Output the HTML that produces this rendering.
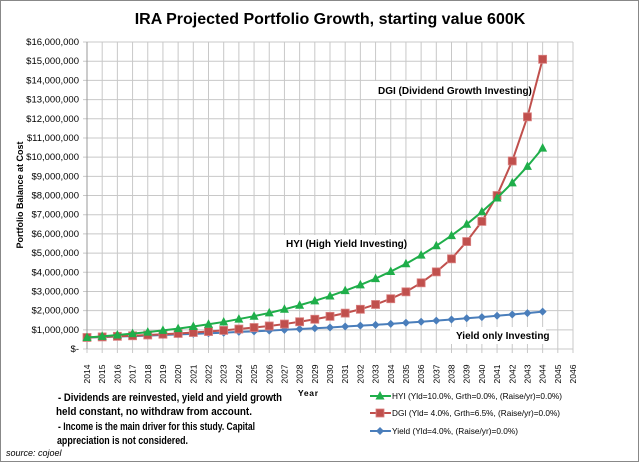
<!DOCTYPE html>
<html><head><meta charset="utf-8"><style>
body{margin:0;background:#fff}
svg text{font-family:"Liberation Sans",sans-serif}
</style></head><body>
<svg id="c" width="640" height="465" xmlns="http://www.w3.org/2000/svg">
<rect x="0.5" y="0.5" width="638" height="461" fill="#fff" stroke="#888"/>
<text x="330" y="24" text-anchor="middle" font-size="16" font-weight="bold">IRA Projected Portfolio Growth, starting value 600K</text>
<text transform="translate(23,195) rotate(-90)" text-anchor="middle" font-size="9" font-weight="bold">Portfolio Balance at Cost</text>
<text x="298" y="396" font-size="8.5" font-weight="bold" textLength="20">Year</text>
<g id="grid"></g><g id="series"></g>
<rect x="372" y="81" width="150" height="18" fill="#fff"/>
<text x="378" y="94" font-size="10" font-weight="bold">DGI (Dividend Growth Investing)</text>
<rect x="280" y="235" width="124" height="17" fill="#fff"/>
<text x="286" y="247" font-size="10" font-weight="bold">HYI (High Yield Investing)</text>
<rect x="450" y="327" width="96" height="17" fill="#fff"/>
<text x="456" y="339" font-size="10" font-weight="bold">Yield only Investing</text>
<g font-size="11" font-weight="bold">
<text x="58" y="401" textLength="224" lengthAdjust="spacingAndGlyphs">- Dividends are reinvested, yield and yield growth</text>
<text x="56" y="415" textLength="196" lengthAdjust="spacingAndGlyphs">held constant, no withdraw from account.</text>
<text x="58" y="430" textLength="197" lengthAdjust="spacingAndGlyphs">- Income is the main driver for this study. Capital</text>
<text x="57" y="444" textLength="131" lengthAdjust="spacingAndGlyphs">appreciation is not considered.</text>
</g>
<text x="6" y="456" font-size="9" font-style="italic">source: cojoel</text>
<g id="legend" font-size="8.5"></g>
</svg>
<script>
const years=[];for(let y=2014;y<=2046;y++)years.push(y);
const yTicks=[0,1,2,3,4,5,6,7,8,9,10,11,12,13,14,15,16];
const hyi=[.6,.66,.73,.8,.88,.97,1.06,1.17,1.29,1.41,1.56,1.71,1.88,2.07,2.28,2.51,2.76,3.04,3.34,3.67,4.04,4.44,4.89,5.38,5.91,6.5,7.15,7.87,8.66,9.52,10.47];
const dgi=[.6,.63,.66,.69,.73,.77,.81,.86,.91,.97,1.04,1.12,1.2,1.3,1.42,1.55,1.7,1.87,2.07,2.32,2.62,2.98,3.45,4.02,4.7,5.6,6.65,8.0,9.8,12.1,15.1];
const yld=[.6,.62,.65,.67,.7,.73,.76,.79,.82,.85,.89,.92,.96,1.0,1.04,1.08,1.12,1.17,1.22,1.26,1.31,1.37,1.42,1.48,1.54,1.6,1.66,1.73,1.8,1.87,1.95];
const NS="http://www.w3.org/2000/svg";
const X0=87,X1=573,Y0=349,Y1=42;
const xs=i=>X0+i*(X1-X0)/32, ys=v=>Y0-v*(Y0-Y1)/16;
function mk(t,a,p){const e=document.createElementNS(NS,t);for(const k in a)e.setAttribute(k,a[k]);p.appendChild(e);return e;}
const g=document.getElementById('grid');
yTicks.forEach(v=>{
 const l=mk('line',{x1:X0-4,x2:X1,y1:ys(v),y2:ys(v),stroke:'#c8c8c8'},g);
 
 
 const t=mk('text',{x:X0-8,y:ys(v)+3,'text-anchor':'end','font-size':'9.5'},g);
 t.textContent=v===0?'$-':'$'+v+',000,000';
 
 
});
years.forEach((yr,i)=>{
 const l=mk('line',{x1:xs(i),x2:xs(i),y1:Y1,y2:Y0+4,stroke:'#c8c8c8'},g);
 
 
 const t=mk('text',{transform:`translate(${xs(i)+3},${Y0+25}) rotate(-90)`,'font-size':'8.5','text-anchor':'middle'},g);
 t.textContent=yr;
 
 
});
const ax=mk('line',{x1:X0,x2:X0,y1:Y1,y2:Y0,stroke:'#999'},g);


const s=document.getElementById('series');
function marker(type,x,y,c,p){
 let e;
 if(type==='tri')e=mk('polygon',{points:`${x},${y-5} ${x-4.5},${y+3.5} ${x+4.5},${y+3.5}`,fill:c},p);
 else if(type==='sq')e=mk('rect',{x:x-4,y:y-4,width:8,height:8,fill:c,stroke:'#d98080','stroke-width':0.8},p);
 else e=mk('polygon',{points:`${x},${y-4} ${x+4},${y} ${x},${y+4} ${x-4},${y}`,fill:c},p);
 return e;
}
function series(arr,c,type,name){
 const gg=mk('g',{},s);
 
 
 mk('polyline',{points:arr.map((v,i)=>xs(i)+','+ys(v)).join(' '),fill:'none',stroke:c,'stroke-width':2},gg);
 arr.forEach((v,i)=>{const m=marker(type,xs(i),ys(v),c,gg);
  
  });
}
series(yld,'#4a7ebb','dia','yield-series');
series(dgi,'#c0504d','sq','dgi-series');
series(hyi,'#1fae4a','tri','hyi-series');
const lg=document.getElementById('legend');
[['HYI (Yld=10.0%, Grth=0.0%, (Raise/yr)=0.0%)','#1fae4a','tri',396,170],
 ['DGI (Yld= 4.0%, Grth=6.5%, (Raise/yr)=0.0%)','#c0504d','sq',413,168],
 ['Yield (Yld=4.0%, (Raise/yr)=0.0%)','#4a7ebb','dia',431,126]].forEach(r=>{
 const e=mk('g',{},lg);
 
 
 mk('line',{x1:370,x2:391,y1:r[3],y2:r[3],stroke:r[1],'stroke-width':2},e);
 marker(r[2],380,r[3],r[1],e);
 const t=mk('text',{x:392,y:r[3]+3,textLength:r[4],lengthAdjust:'spacingAndGlyphs'},e);t.textContent=r[0];
});
</script>
</body></html>
